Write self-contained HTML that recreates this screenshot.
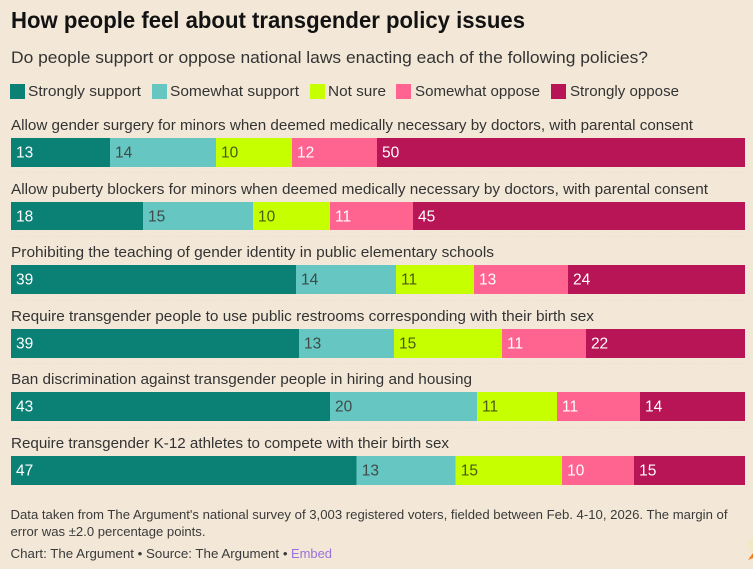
<!DOCTYPE html>
<html lang="en">
<head>
<meta charset="utf-8">
<title>How people feel about transgender policy issues</title>
<style>
html,body{margin:0;padding:0;background:#f3e8d8;}
body{width:753px;height:569px;overflow:hidden;}
svg{display:block;}
text{font-family:"Liberation Sans",sans-serif;}
</style>
</head>
<body>
<svg id="chart" width="753" height="569" viewBox="0 0 753 569" xmlns="http://www.w3.org/2000/svg">
<rect x="0" y="0" width="753" height="569" fill="#f3e8d8"/>
<text x="11" y="28" font-size="23" font-weight="700" fill="#121212" textLength="514" lengthAdjust="spacingAndGlyphs">How people feel about transgender policy issues</text>
<text x="11" y="63" font-size="17" fill="#333" textLength="637" lengthAdjust="spacingAndGlyphs">Do people support or oppose national laws enacting each of the following policies?</text>
<g id="legend"></g>
<g id="rows"></g>
<text x="10.500" y="519" font-size="13" fill="#3a3a3a" textLength="717" lengthAdjust="spacingAndGlyphs">Data taken from The Argument's national survey of 3,003 registered voters, fielded between Feb. 4-10, 2026. The margin of</text>
<text x="10.500" y="536" font-size="13" fill="#3a3a3a" textLength="195" lengthAdjust="spacingAndGlyphs">error was ±2.0 percentage points.</text>
<text x="10.500" y="558" font-size="13" fill="#3a3a3a" textLength="277" lengthAdjust="spacingAndGlyphs">Chart: The Argument • Source: The Argument •</text>
<text x="291" y="558" font-size="13" fill="#9a70dc" textLength="41" lengthAdjust="spacingAndGlyphs">Embed</text>
<circle cx="756" cy="545" r="8" fill="#eeeac4"/>
<path d="M753 553 L748 560 L753 558 Z" fill="#f57c1f"/>
</svg>
<script>
const categories = ["Strongly support", "Somewhat support", "Not sure", "Somewhat oppose", "Strongly oppose"];
const questions = [
  "Allow gender surgery for minors when deemed medically necessary by doctors, with parental consent",
  "Allow puberty blockers for minors when deemed medically necessary by doctors, with parental consent",
  "Prohibiting the teaching of gender identity in public elementary schools",
  "Require transgender people to use public restrooms corresponding with their birth sex",
  "Ban discrimination against transgender people in hiring and housing",
  "Require transgender K-12 athletes to compete with their birth sex"
];
const stronglySupport = [13.49, 17.98, 38.83, 39.24, 43.46, 47.1];
const somewhatSupport = [14.44, 14.99, 13.62, 12.94, 20.03, 13.49];
const notSure = [10.35, 10.49, 10.63, 14.71, 10.9, 14.5];
const somewhatOppose = [11.58, 11.31, 12.81, 11.44, 11.31, 9.8];
const stronglyOppose = [50.14, 45.23, 24.11, 21.67, 14.3, 15.11];

const seriesValues = [stronglySupport, somewhatSupport, notSure, somewhatOppose, stronglyOppose];
const colors = ["#0b8075", "#66c7c2", "#c6ff00", "#ff6390", "#b71556"];
const labelColors = ["#ffffff", "#3d4a48", "#4a5a10", "#ffffff", "#ffffff"];
const NS = "http://www.w3.org/2000/svg";

function xScale(v) { return 11 + v * 7.34; }
function rowTop(i) { return 138 + i * 63.6; }
function make(tag, attrs, parent, text) {
  const el = document.createElementNS(NS, tag);
  for (const k in attrs) el.setAttribute(k, attrs[k]);
  if (text !== undefined) el.textContent = text;
  parent.appendChild(el);
  return el;
}

const legend = document.getElementById("legend");
const legendSwatchX = [10, 152, 310, 396, 551];
const legendTextX = [28, 170, 328, 415, 570];
const legendTextWidth = [113, 129, 58, 125, 109];
categories.forEach(function (name, c) {
  const swatch = make("rect", {x: legendSwatchX[c], y: 84, width: 15, height: 15, fill: colors[c]}, legend);
  
  
  const label = make("text", {x: legendTextX[c], y: 96, "font-size": 15, fill: "#333",
    textLength: legendTextWidth[c], lengthAdjust: "spacingAndGlyphs"}, legend, name);
  
  
});

const rows = document.getElementById("rows");
const questionWidths = [682, 697, 483, 583, 461, 438];
questions.forEach(function (q, r) {
  const top = Math.round(rowTop(r));
  const bottom = Math.round(rowTop(r) + 28.8);
  const qLabel = make("text", {x: 11, y: top - 8, "font-size": 15, fill: "#333",
    textLength: questionWidths[r], lengthAdjust: "spacingAndGlyphs"}, rows, q);
  
  
  let cum = 0;
  seriesValues.forEach(function (series, c) {
    const v = series[r];
    const x0 = xScale(cum);
    const x1 = xScale(cum + v);
    const bar = make("rect", {x: x0, y: top, width: x1 - x0, height: bottom - top, fill: colors[c], "shape-rendering": "crispEdges"}, rows);
    
    
    const val = make("text", {x: x0 + 5, y: top + 19.5, "font-size": 15.5, fill: labelColors[c]}, rows, String(Math.round(v)));
    
    
    cum += v;
  });
  if (r < questions.length - 1) {
    const sepY = Math.round(rowTop(r) + 34.4) + 0.5;
    const sep = make("line", {x1: 11, x2: 745, y1: sepY, y2: sepY, stroke: "#dfdfd8", "stroke-width": 1, "stroke-dasharray": "1 2"}, rows);
    
    
  }
});
</script>
</body>
</html>
